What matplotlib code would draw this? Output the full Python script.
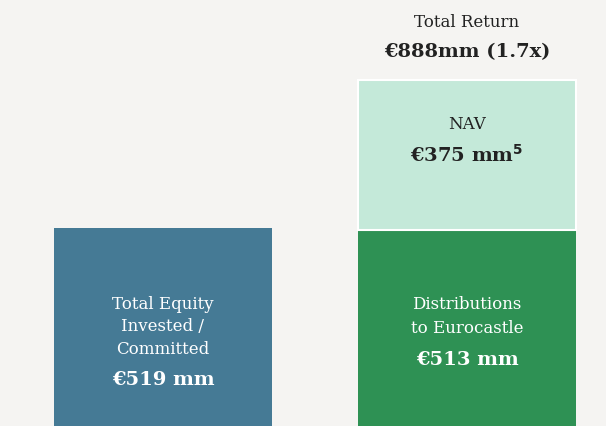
import matplotlib
matplotlib.use("Agg")
import matplotlib.pyplot as plt

# values in EUR mm
invested = 519
distributions = 513
nav = 375
total_return = distributions + nav
multiple = 1.7

bar_positions = [0, 1]
bg = "#f5f4f2"
c_invested = "#457a95"
c_dist = "#2e9154"
c_nav = "#c4e9d9"

plt.rcParams["font.family"] = ["DejaVu Serif"]

fig = plt.figure(figsize=(6.06, 4.26), dpi=100, facecolor=bg)
ax = fig.add_axes([0, 0, 1, 1])
ax.set_facecolor(bg)

width = 0.717
ax.bar(bar_positions[0], invested, width=width, color=c_invested)
ax.bar(bar_positions[1], distributions, width=width, color=c_dist)
ax.bar(bar_positions[1], nav, bottom=distributions, width=width, color=c_nav,
       edgecolor="white", linewidth=1.5)

# baseline sits just below the bottom edge of the image
ax.set_xlim(-0.536, 1.457)
ax.set_ylim(25, 1087)
ax.axis("off")

dark = "#222222"

# left bar labels
ax.text(0, 272, "Total Equity\nInvested /\nCommitted", ha="center", va="center",
        color="white", fontsize=12, linespacing=1.45)
ax.text(0, 140, "€519 mm", ha="center", va="center", color="white",
        fontsize=14, fontweight="bold")

# distributions
ax.text(1, 297, "Distributions\nto Eurocastle", ha="center", va="center",
        color="white", fontsize=12, linespacing=1.55)
ax.text(1, 190, "€513 mm", ha="center", va="center", color="white",
        fontsize=14, fontweight="bold")

# NAV
ax.text(1, 776, "NAV", ha="center", va="center", color=dark, fontsize=12)
ax.text(1, 701, r"€375 mm$^{\mathbf{5}}$", ha="center", va="center", color=dark,
        fontsize=14, fontweight="bold")

# total return
ax.text(1, 1032, "Total Return", ha="center", va="center", color=dark, fontsize=12)
ax.text(1, 958, f"€{total_return}mm ({multiple}x)", ha="center", va="center",
        color=dark, fontsize=14, fontweight="bold")

fig.savefig("out.png", dpi=100, facecolor=bg)
